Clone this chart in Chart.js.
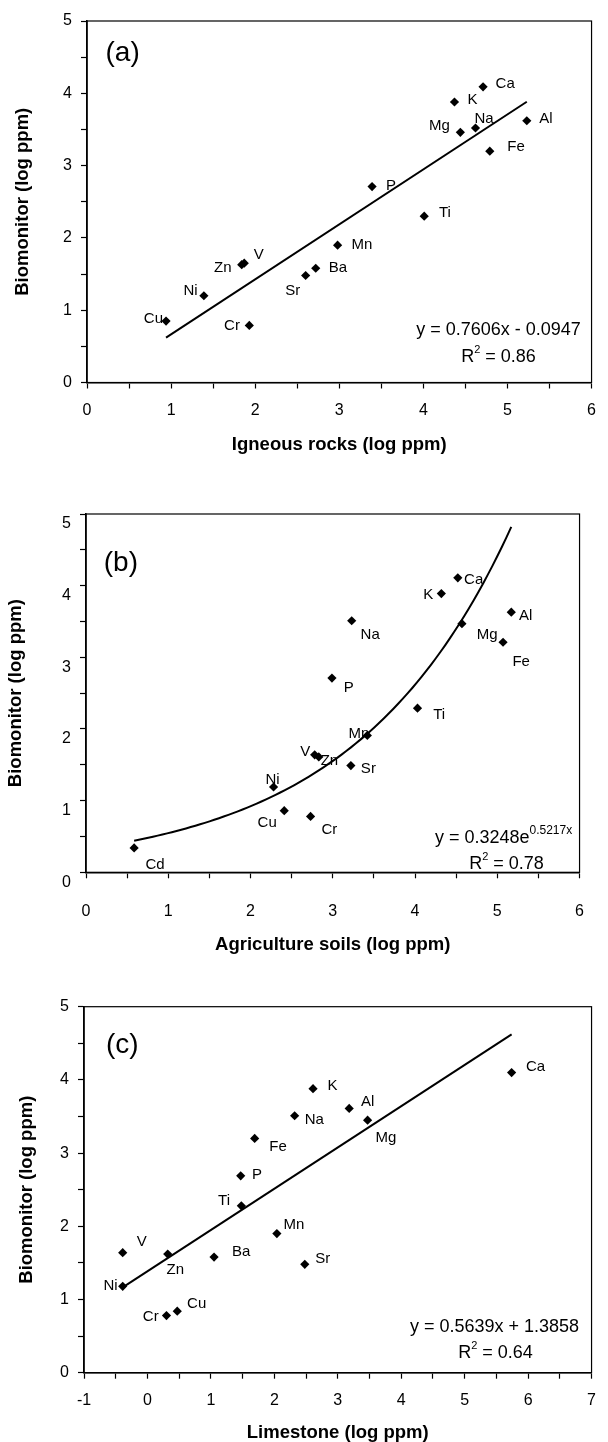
<!DOCTYPE html>
<html><head><meta charset="utf-8">
<script src="https://cdn.jsdelivr.net/npm/chart.js@4.4.1/dist/chart.umd.min.js"></script>
<style>
html,body{margin:0;padding:0;background:#fff;}
body{width:608px;height:1442px;position:relative;overflow:hidden;}
canvas{position:absolute;left:0;display:block;}
</style></head><body>
<canvas id="chartA" width="608" height="470" style="top:0px"></canvas>
<canvas id="chartB" width="608" height="490" style="top:470px"></canvas>
<canvas id="chartC" width="608" height="482" style="top:960px"></canvas>
<script>
// ---------- DATA ----------
// Panel (a): Igneous rocks vs biomonitor
const elementsA = ['Ca','K','Mg','Na','Al','Fe','P','Ti','Mn','V','Zn','Ba','Sr','Ni','Cu','Cr'];
const igneousRocks = [4.71,4.37,4.44,4.62,5.23,4.79,3.39,4.01,2.98,1.87,1.84,2.72,2.60,1.39,0.94,1.93];
const biomonitorA  = [4.09,3.88,3.46,3.52,3.62,3.20,2.71,2.30,1.90,1.65,1.63,1.58,1.48,1.20,0.85,0.79];
const fitA = [0.7606, -0.0947];   // slope, intercept
const r2A = '0.86';

// Panel (b): Agriculture soils vs biomonitor
const elementsB = ['Ca','K','Na','Al','Mg','Fe','P','Ti','Mn','V','Zn','Sr','Ni','Cu','Cr','Cd'];
const agricultureSoils = [4.52,4.32,3.23,5.17,4.57,5.07,2.99,4.03,3.42,2.78,2.83,3.22,2.28,2.41,2.73,0.585];
const biomonitorB      = [4.11,3.89,3.51,3.63,3.47,3.21,2.71,2.29,1.91,1.64,1.61,1.49,1.19,0.86,0.78,0.34];
const fitB = [0.3248, 0.5217];   // a, b of y = a*e^(b x)
const r2B = '0.78';

// Panel (c): Limestone vs biomonitor
const elementsC = ['Ca','K','Al','Na','Mg','Fe','P','Ti','Mn','V','Zn','Ba','Sr','Ni','Cr','Cu'];
const limestone   = [5.74,2.61,3.18,2.32,3.47,1.69,1.47,1.48,2.04,-0.39,0.32,1.05,2.48,-0.39,0.30,0.47];
const biomonitorC = [4.10,3.88,3.61,3.51,3.45,3.20,2.69,2.28,1.90,1.64,1.62,1.58,1.48,1.18,0.78,0.84];
const fitC = [0.5639, 1.3858];
const r2C = '0.64';

const yRange = [0, 5];
const xRangeA = [0, 6];
const xRangeB = [0, 6];
const xRangeC = [-1, 7];

// ---------- RENDERING ----------
const F = '"Liberation Sans", Arial, Helvetica, sans-serif';
Chart.defaults.font.family = F;
Chart.defaults.color = '#000';

function pts(xs, ys){ return xs.map((x,i)=>({x:x, y:ys[i]})); }
function linearTrend(xs, c){
  const lo = Math.min(...xs), hi = Math.max(...xs);
  return [{x:lo, y:c[0]*lo+c[1]}, {x:hi, y:c[0]*hi+c[1]}];
}
function expTrend(xs, c){
  const lo = Math.min(...xs), hi = Math.max(...xs), n = 80, out = [];
  for (let i=0;i<=n;i++){ const x = lo+(hi-lo)*i/n; out.push({x:x, y:c[0]*Math.exp(c[1]*x)}); }
  return out;
}

function drawRich(ctx, parts, cx, cy){
  let w = 0;
  parts.forEach(p=>{ ctx.font = p.size+'px '+F; p.w = ctx.measureText(p.t).width; w += p.w; });
  let x = cx - w/2;
  ctx.textAlign = 'left'; ctx.textBaseline = 'middle';
  parts.forEach(p=>{ ctx.font = p.size+'px '+F; ctx.fillText(p.t, x, cy + (p.dy||0)); x += p.w; });
}

const annot = {
  id: 'annot',
  afterDatasetsDraw(chart, args, o){
    const ctx = chart.ctx, ca = chart.chartArea;
    ctx.save();
    ctx.strokeStyle = '#000'; ctx.lineWidth = 1.2;
    ctx.strokeRect(ca.left, ca.top, ca.right-ca.left, ca.bottom-ca.top);
    const meta = chart.getDatasetMeta(0);
    ctx.fillStyle = '#000';
    ctx.font = '15px '+F; ctx.textBaseline = 'middle';
    o.names.forEach((n,i)=>{
      const p = meta.data[i]; const off = o.offsets[n] || [9,0,'left'];
      ctx.textAlign = off[2];
      ctx.fillText(n, p.x+off[0], p.y+off[1]);
    });
    ctx.font = '28px '+F; ctx.textAlign = 'left'; ctx.textBaseline = 'middle';
    ctx.fillText(o.letter, ca.left+o.letterPos[0], ca.top+o.letterPos[1]);
    drawRich(ctx, o.eq, ca.right+o.eqPos[0], ca.bottom+o.eqPos[1]);
    drawRich(ctx, o.r2, ca.right+o.r2Pos[0], ca.bottom+o.r2Pos[1]);
    ctx.restore();
  }
};

function isInt(v){ return Math.abs(v-Math.round(v))<1e-6; }

function makeChart(id, c){
  const ctx = document.getElementById(id);
  return new Chart(ctx, {
    type: 'scatter',
    data: { datasets: [
      { data: pts(c.xs, c.ys), pointStyle:'rectRot', pointRadius:4.6, pointHoverRadius:4.6,
        backgroundColor:'#000', borderColor:'#000', borderWidth:0, order:0 },
      { data: c.trend, showLine:true, pointRadius:0, borderColor:'#000', borderWidth:2,
        tension:0, fill:false, order:1 }
    ]},
    options: {
      responsive:false, animation:false, devicePixelRatio:1,
      layout:{ padding:{ top:c.pad[0], right:c.pad[1], bottom:0, left:0 } },
      plugins:{ legend:{display:false}, tooltip:{enabled:false}, annot:c.annot },
      scales:{
        x:{ type:'linear', min:c.xr[0], max:c.xr[1],
          ticks:{ stepSize:0.5, autoSkip:false, maxRotation:0, color:'#000', padding:c.xTickPad,
            font:{size:16}, callback:v=> isInt(v)? String(Math.round(v)) : '' },
          grid:{ drawOnChartArea:false, drawTicks:true, tickLength:6, tickColor:'#000', tickWidth:1.2 },
          border:{ display:true, color:'#000', width:1.6 },
          title:{ display:true, text:c.xTitle, color:'#000', font:{size:18.5, weight:'bold', lineHeight:1},
            padding:{top:0, bottom:c.xTitlePad} },
          afterFit: s=>{ s.height = c.xH; }
        },
        y:{ type:'linear', min:yRange[0], max:yRange[1],
          ticks:{ stepSize:0.5, autoSkip:false, color:'#000', padding:9, labelOffset:c.yLabelOff,
            font:{size:16}, callback:v=> isInt(v)? String(Math.round(v)) : '' },
          grid:{ drawOnChartArea:false, drawTicks:true, tickLength:6, tickColor:'#000', tickWidth:1.2 },
          border:{ display:true, color:'#000', width:1.6 },
          title:{ display:true, text:'Biomonitor (log ppm)', color:'#000', font:{size:18.5, weight:'bold', lineHeight:1},
            padding:{top:c.yTitlePad, bottom:0} },
          afterFit: s=>{ s.width = c.L; }
        }
      }
    },
    plugins:[annot]
  });
}

const SUP = 11;
makeChart('chartA', {
  xs: igneousRocks, ys: biomonitorA, trend: linearTrend(igneousRocks, fitA), xr: xRangeA,
  pad:[21,7], L:87, xH:87.5, xTickPad:12, xTitlePad:15.5, yTitlePad:14, yLabelOff:0,
  xTitle:'Igneous rocks (log ppm)',
  annot:{ names: elementsA, letter:'(a)', letterPos:[18.5,32.6],
    offsets:{ Ca:[12.5,-3,'left'], K:[12.9,-2,'left'], Mg:[-10.5,-6,'right'], Na:[-1,-9.4,'left'],
      Al:[12.4,-2,'left'], Fe:[17.5,-4,'left'], P:[14,-1,'left'], Ti:[14.8,-3.7,'left'], Mn:[14,0,'left'],
      V:[9.4,-8,'left'], Zn:[-10.2,3.7,'right'], Ba:[12.9,0,'left'], Sr:[-5.5,15.7,'right'],
      Ni:[-6.2,-5,'right'], Cu:[-3,-2,'right'], Cr:[-9.4,0,'right'] },
    eq:[{t:'y = '+fitA[0].toFixed(4)+'x - '+Math.abs(fitA[1]).toFixed(4), size:18}],
    eqPos:[-93,-52.5],
    r2:[{t:'R',size:18},{t:'2',size:SUP,dy:-7},{t:' = '+r2A,size:18}], r2Pos:[-93,-25.8]
  }
});

makeChart('chartB', {
  xs: agricultureSoils, ys: biomonitorB, trend: expTrend(agricultureSoils, fitB), xr: xRangeB,
  pad:[44,7], L:86, xH:87.7, xTickPad:24, xTitlePad:6, yTitlePad:7, yLabelOff:10,
  xTitle:'Agriculture soils (log ppm)',
  annot:{ names: elementsB, letter:'(b)', letterPos:[17.8,49.3],
    offsets:{ Ca:[6.3,1.7,'left'], K:[-8.2,1,'right'], Na:[8.9,14,'left'], Al:[7.8,3.4,'left'],
      Mg:[14.8,11.7,'left'], Fe:[9.4,20,'left'], P:[11.7,10,'left'], Ti:[15.7,6.7,'left'],
      Mn:[2,-1.4,'right'], V:[-4.3,-3,'right'], Zn:[1.9,4.4,'left'], Sr:[10,3.7,'left'],
      Ni:[-1,-7.3,'center'], Cu:[-7.5,12.3,'right'], Cr:[10.9,13.3,'left'], Cd:[11.3,17.4,'left'] },
    eq:[{t:'y = '+fitB[0].toFixed(4)+'e',size:18},{t:fitB[1].toFixed(4)+'x',size:12,dy:-8}],
    eqPos:[-76,-34],
    r2:[{t:'R',size:18},{t:'2',size:SUP,dy:-7},{t:' = '+r2B,size:18}], r2Pos:[-73,-8.3]
  }
});

makeChart('chartC', {
  xs: limestone, ys: biomonitorC, trend: linearTrend(limestone, fitC), xr: xRangeC,
  pad:[46.7,6], L:84, xH:69.3, xTickPad:12, xTitlePad:0, yTitlePad:17.5, yLabelOff:0,
  xTitle:'Limestone (log ppm)',
  annot:{ names: elementsC, letter:'(c)', letterPos:[22,38.3],
    offsets:{ Ca:[14.4,-6,'left'], K:[14.4,-3.3,'left'], Al:[11.7,-7,'left'], Na:[10,4.3,'left'],
      Mg:[7.8,17.3,'left'], Fe:[14.7,8.6,'left'], P:[11.2,-0.7,'left'], Ti:[-11.3,-5,'right'],
      Mn:[6.7,-8.3,'left'], V:[14,-11,'left'], Zn:[-1.2,16,'left'], Ba:[18,-5.3,'left'],
      Sr:[10.5,-5.3,'left'], Ni:[-5,0,'right'], Cr:[-7.8,1.6,'right'], Cu:[9.8,-7,'left'] },
    eq:[{t:'y = '+fitC[0].toFixed(4)+'x + '+fitC[1].toFixed(4), size:18}],
    eqPos:[-97,-46],
    r2:[{t:'R',size:18},{t:'2',size:SUP,dy:-7},{t:' = '+r2C,size:18}], r2Pos:[-96,-19.4]
  }
});
</script>
</body></html>
